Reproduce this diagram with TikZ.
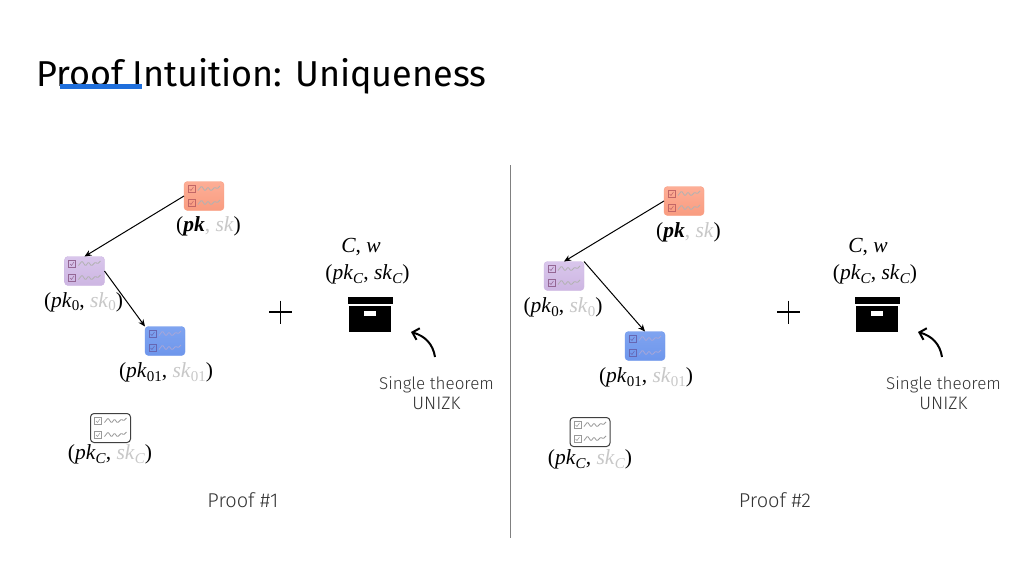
\documentclass[tikz,border=0pt]{standalone}
\usepackage{fontspec}
\setmainfont{Fira Sans Light}
\newfontfamily\titlefont{Fira Sans}
\newfontfamily\mfont{Liberation Serif}
\usetikzlibrary{arrows.meta,calc}
\definecolor{skgray}{HTML}{C8C8C8}
\definecolor{ulblue}{HTML}{1F6FDC}
\definecolor{redT}{HTML}{FDAE96}
\definecolor{redB}{HTML}{F99C80}
\definecolor{purT}{HTML}{D9C6EC}
\definecolor{purB}{HTML}{CDB6E2}
\definecolor{bluT}{HTML}{7FA4F0}
\definecolor{bluB}{HTML}{6E96EC}
\tikzset{
  x=1pt,y=-1pt,
  card/.style={minimum width=40pt,minimum height=29pt,rounded corners=3.5pt,inner sep=0pt,outer sep=0pt},
  redcard/.style={card,top color=redT,bottom color=redB,draw=redB,line width=.4pt},
  purcard/.style={card,top color=purT,bottom color=purB,draw=purB,line width=.4pt},
  blucard/.style={card,top color=bluT,bottom color=bluB,draw=bluB,line width=.4pt},
  whitecard/.style={card,draw=black!75,line width=1pt,fill=white},
  mathlbl/.style={font=\mfont\fontsize{21.5}{24}\selectfont,inner sep=0pt,text=black},
  txt/.style={font=\fontsize{17}{20}\selectfont,inner sep=0pt,text=black!80},
  prooflbl/.style={font=\fontsize{20}{22}\selectfont,inner sep=0pt,text=black!80},
  edge/.style={-{Stealth[length=7pt,width=6pt]},line width=1pt,black},
  curvearrow/.style={-{Straight Barb[length=6pt,width=12pt]},line width=2pt,black},
  plus/.style={line width=1.2pt,black},
  checkbox/.style={line width=.5pt},
}
% marks inside a card: #1 centre name, #2 box colour, #3 wave colour
\newcommand{\cardmarks}[3]{%
  \foreach \yy in {-7,7}{%
    \draw[checkbox,#2] ($(#1)+(-16,\yy-3.5)$) rectangle ($(#1)+(-9,\yy+3.5)$);
    \draw[checkbox,#2] ($(#1)+(-14.5,\yy)$) -- ($(#1)+(-13,\yy+1.5)$) -- ($(#1)+(-10.5,\yy-2)$);
    \draw[line width=.8pt,#3,rounded corners=1pt] ($(#1)+(-6,\yy+1.5)$) -- ($(#1)+(-2.5,\yy-3)$) -- ($(#1)+(1,\yy+2)$) -- ($(#1)+(4,\yy-2)$) -- ($(#1)+(7,\yy+2)$) -- ($(#1)+(11,\yy-2)$) -- ($(#1)+(13,\yy)$) -- ($(#1)+(16,\yy-3)$);
  }%
}
\newcommand{\gr}[1]{\textcolor{skgray}{#1}}
\newcommand{\vv}[1]{\textit{#1}}
\newcommand{\sbs}[1]{\raisebox{-3.5pt}{\fontsize{15}{16}\selectfont #1}}
\newcommand{\sbi}[1]{\raisebox{-3.5pt}{\fontsize{15}{16}\selectfont\itshape #1\/}}
\begin{document}
\begin{tikzpicture}
\useasboundingbox (0,0) rectangle (1024,576);
\fill[white] (0,0) rectangle (1024,576);
% title
\node[anchor=base west,inner sep=0pt,font=\titlefont\fontsize{36}{44}\selectfont,text=black] (title) at (36,86) {Proof Intuition: Uniqueness};
\fill[ulblue] (60,84) rectangle (142,89);
% divider
\coordinate (dtop) at (510,165);
\coordinate (dbot) at (510,538);
\draw[line width=1pt,black!50] (dtop) -- (dbot);
% proof 1
\node[redcard] (r1) at (204,196) {};
\node[purcard] (p1) at (84.5,271) {};
\node[blucard] (b1) at (165,341) {};
\node[whitecard] (w1) at (110.5,428) {};
\cardmarks{r1}{black!40!red!60}{black!30}
\cardmarks{p1}{violet!60!black!60}{black!30}
\cardmarks{b1}{blue!50!black!60}{blue!40!gray!50}
\cardmarks{w1}{black!40}{black!40}
\draw[edge] (r1.west) -- (p1.north);
\draw[edge] (p1.east) -- (b1.north west);
\node[mathlbl] (lr1) at (208.5,226.5) {(\textbf{\textit{pk}}\gr{, \vv{sk}})};
\node[mathlbl] (lp1) at (83.5,302) {(\vv{pk}\sbs{0}, \gr{\vv{sk}\sbs{0}})};
\node[mathlbl] (lb1) at (166,372.5) {(\vv{pk}\sbs{01}, \gr{\vv{sk}\sbs{01}})};
\node[mathlbl] (lw1) at (110,454.5) {(\vv{pk}\sbi{C}, \gr{\vv{sk}\sbi{C}})};
\node[mathlbl] (cw1) at (361,247) {\vv{C}, \vv{w}};
\node[mathlbl] (ck1) at (367.5,274.5) {(\vv{pk}\sbi{C}, \vv{sk}\sbi{C})};
\draw[plus] (269,312) -- (292,312);
\draw[plus] (280.5,300.5) -- (280.5,323.5);
\fill[black] (348,297) rectangle (393,304);
\fill[black] (349,306) rectangle (391,332);
\fill[white] (364,311) rectangle (376,316);
\coordinate (a1s) at (435,357);
\coordinate (a1e) at (411,332);
\draw[curvearrow] (a1s) .. controls (433,344) and (425,336) .. (a1e);
\node[txt,align=center] (st1) at (436.5,393) {Single theorem\\{\fontsize{18}{20}\selectfont UNIZK}};
\node[prooflbl] (pf1) at (243,500) {Proof \#1};
% proof 2
\node[redcard] (r2) at (684,201) {};
\node[purcard] (p2) at (564,276) {};
\node[blucard] (b2) at (645,346) {};
\node[whitecard] (w2) at (590,432) {};
\cardmarks{r2}{black!40!red!60}{black!30}
\cardmarks{p2}{violet!60!black!60}{black!30}
\cardmarks{b2}{blue!50!black!60}{blue!40!gray!50}
\cardmarks{w2}{black!40}{black!40}
\draw[edge] (r2.west) -- (p2.north);
\draw[edge] (p2.north east) -- (b2.north);
\node[mathlbl] (lr2) at (688.5,232) {(\textbf{\textit{pk}}\gr{, \vv{sk}})};
\node[mathlbl] (lp2) at (563,307.5) {(\vv{pk}\sbs{0}, \gr{\vv{sk}\sbs{0}})};
\node[mathlbl] (lb2) at (646,377.5) {(\vv{pk}\sbs{01}, \gr{\vv{sk}\sbs{01}})};
\node[mathlbl] (lw2) at (590,459.5) {(\vv{pk}\sbi{C}, \gr{\vv{sk}\sbi{C}})};
\node[mathlbl] (cw2) at (868,247) {\vv{C}, \vv{w}};
\node[mathlbl] (ck2) at (875,274.5) {(\vv{pk}\sbi{C}, \vv{sk}\sbi{C})};
\draw[plus] (777,312) -- (800,312);
\draw[plus] (788.5,300.5) -- (788.5,323.5);
\fill[black] (855,297) rectangle (900,304);
\fill[black] (856,306) rectangle (898,332);
\fill[white] (871,311) rectangle (883,316);
\coordinate (a2s) at (942,357);
\coordinate (a2e) at (918,332);
\draw[curvearrow] (a2s) .. controls (940,344) and (932,336) .. (a2e);
\node[txt,align=center] (st2) at (943.5,393) {Single theorem\\{\fontsize{18}{20}\selectfont UNIZK}};
\node[prooflbl] (pf2) at (775,500) {Proof \#2};
\end{tikzpicture}
\end{document}
